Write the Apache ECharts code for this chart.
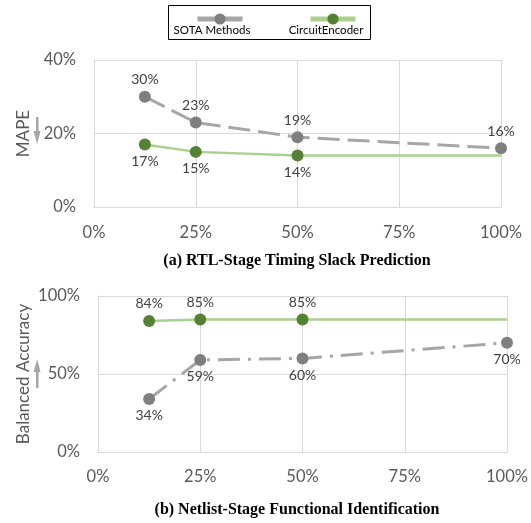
<!DOCTYPE html>
<html><head><meta charset="utf-8">
<script src="https://cdn.jsdelivr.net/npm/echarts@6/dist/echarts.min.js"></script>
<style>html,body{margin:0;padding:0;background:#fff}#c{width:531px;height:523px}</style>
</head><body><div id="c"></div>
<script>
const xFractions = [0.125, 0.25, 0.5, 1.0];
const xTicks = ['0%', '25%', '50%', '75%', '100%'];
const seriesNames = ['SOTA Methods', 'CircuitEncoder'];
// (a) RTL-Stage Timing Slack Prediction, MAPE (%)
const sotaMape = [30, 23, 19, 16];
const encoderMape = [17, 15, 14, 14];
// (b) Netlist-Stage Functional Identification, Balanced Accuracy (%)
const sotaAcc = [34, 59, 60, 70];
const encoderAcc = [84, 85, 85, 85];
const titleA = '(a) RTL-Stage Timing Slack Prediction';
const titleB = '(b) Netlist-Stage Functional Identification';

const FONT = 'Lato';
const GRAY_M = '#7f7f7f', GRAY_L = '#a6a6a6', GREEN_M = '#548235', GREEN_L = '#a9d18e';
const gridCol = '#d9d9d9';

function pts(vals, lastMarker) {
  return vals.map((v, i) => {
    const item = { value: [xFractions[i], v] };
    if (i === vals.length - 1 && !lastMarker) {
      item.symbol = 'none';
      item.label = { show: false };
    }
    return item;
  });
}
function xAxis(gi, margin) {
  return {
    gridIndex: gi, type: 'value', min: 0, max: 1, interval: 0.25,
    axisLine: { show: true, lineStyle: { color: gridCol, width: 1 } },
    axisTick: { show: false },
    splitLine: { show: true, lineStyle: { color: gridCol, width: 1 } },
    axisLabel: { margin: margin, color: '#595959', fontFamily: FONT, fontSize: 16.5,
      formatter: v => xTicks[Math.round(v / 0.25)] }
  };
}
function yAxis(gi, max, interval, name, gap) {
  return {
    gridIndex: gi, type: 'value', min: 0, max: max, interval: interval,
    name: name, nameLocation: 'middle', nameRotate: 90, nameGap: gap, nameMoveOverlap: false,
    nameTextStyle: { color: '#595959', fontFamily: FONT, fontSize: 17 },
    axisLine: { show: true, lineStyle: { color: gridCol, width: 1 } },
    axisTick: { show: false },
    splitLine: { show: true, lineStyle: { color: gridCol, width: 1 } },
    axisLabel: { margin: 18, color: '#595959', fontFamily: FONT, fontSize: 16.5, formatter: '{value}%' }
  };
}
function lbl(pos) {
  return { show: true, position: pos, distance: 4, color: '#404040', fontFamily: FONT, fontSize: 14,
    formatter: p => Math.round(p.value[1]) + '%' };
}
function sotaSeries(gi, vals, dash, pos) {
  return {
    name: seriesNames[0], type: 'line', xAxisIndex: gi, yAxisIndex: gi,
    data: pts(vals, true), symbol: 'circle', symbolSize: 12,
    itemStyle: { color: GRAY_M },
    lineStyle: { color: GRAY_L, width: 3, type: dash },
    label: lbl(pos), z: 3
  };
}
function encSeries(gi, vals, pos) {
  return {
    name: seriesNames[1], type: 'line', xAxisIndex: gi, yAxisIndex: gi,
    data: pts(vals, false), symbol: 'circle', symbolSize: 12,
    itemStyle: { color: GREEN_M },
    lineStyle: { color: GREEN_L, width: 2.5, type: 'solid' },
    label: lbl(pos), z: 4
  };
}

const chart = echarts.init(document.getElementById('c'));
chart.setOption({
  animation: false,
  backgroundColor: '#fff',
  grid: [
    { left: 94, right: 30, top: 60, bottom: 316 },
    { left: 98, right: 24, top: 296, bottom: 71 }
  ],
  xAxis: [xAxis(0, 17), xAxis(1, 16)],
  yAxis: [yAxis(0, 40, 20, 'MAPE', 62), yAxis(1, 100, 50, 'Balanced Accuracy', 66)],
  legend: {
    left: 190, top: 7, itemWidth: 45, itemHeight: 14, itemGap: 63,
    data: seriesNames,
    formatter: () => '',
    lineStyle: { type: 'solid', width: 5 },
    textStyle: { fontSize: 1 }
  },
  series: [
    sotaSeries(0, sotaMape, [22, 8], 'top'),
    encSeries(0, encoderMape, 'bottom'),
    sotaSeries(1, sotaAcc, [22, 8, 3, 8], 'bottom'),
    encSeries(1, encoderAcc, 'top')
  ],
  graphic: [
    { type: 'rect', shape: { x: 168.5, y: 5.5, width: 202, height: 34 },
      style: { fill: 'none', stroke: '#000', lineWidth: 1 }, z: 0 },
    { type: 'text', x: 212, y: 30, style: { text: seriesNames[0], fill: '#000', font: '11.5px Lato', textAlign: 'center', textVerticalAlign: 'middle' } },
    { type: 'text', x: 326, y: 30, style: { text: seriesNames[1], fill: '#000', font: '11.5px Lato', textAlign: 'center', textVerticalAlign: 'middle' } },
    { type: 'text', x: 297, y: 261, style: { text: titleA, fill: '#000', font: 'bold 16px "Liberation Serif"', textAlign: 'center', textVerticalAlign: 'middle' } },
    { type: 'text', x: 297, y: 510, style: { text: titleB, fill: '#000', font: 'bold 16px "Liberation Serif"', textAlign: 'center', textVerticalAlign: 'middle' } },
    { type: 'rect', shape: { x: 36, y: 117, width: 2.5, height: 16 }, style: { fill: GRAY_L } },
    { type: 'polygon', shape: { points: [[33.5, 131], [40.5, 131], [37.2, 144]] }, style: { fill: GRAY_L } },
    { type: 'rect', shape: { x: 36, y: 371, width: 2.5, height: 17 }, style: { fill: GRAY_L } },
    { type: 'polygon', shape: { points: [[33.5, 372], [40.5, 372], [37.2, 359]] }, style: { fill: GRAY_L } }
  ]
});
</script></body></html>
